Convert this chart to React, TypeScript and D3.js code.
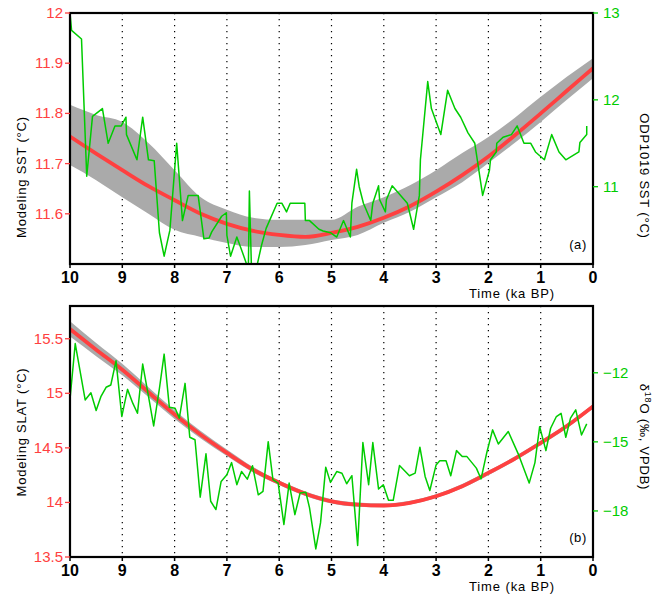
import React from "react";
import * as d3 from "d3";

const xTicks = [10, 9, 8, 7, 6, 5, 4, 3, 2, 1, 0];
const gridTimes = [9, 8, 7, 6, 5, 4, 3, 2, 1];
const modelTime = [10, 9.5, 9, 8.5, 8, 7.5, 7, 6.5, 6, 5.5, 5, 4.5, 4, 3.5, 3, 2.5, 2, 1.5, 1, 0.5, 0];

const sstModel = [11.754, 11.72, 11.687, 11.655, 11.627, 11.6, 11.58, 11.566, 11.558, 11.554, 11.562, 11.574, 11.592, 11.615, 11.644, 11.677, 11.714, 11.756, 11.8, 11.845, 11.89];
const sstUpper = [11.817, 11.797, 11.783, 11.741, 11.687, 11.633, 11.608, 11.592, 11.588, 11.588, 11.588, 11.614, 11.633, 11.657, 11.687, 11.721, 11.753, 11.791, 11.833, 11.873, 11.91];
const sstLower = [11.697, 11.667, 11.633, 11.6, 11.568, 11.554, 11.542, 11.534, 11.534, 11.538, 11.548, 11.558, 11.582, 11.604, 11.633, 11.663, 11.701, 11.741, 11.783, 11.827, 11.87];

const odpTime = [10, 9.97, 9.78, 9.68, 9.57, 9.38, 9.27, 9.14, 9.02, 8.93, 8.92, 8.72, 8.61, 8.5, 8.39, 8.29, 8.2, 8.09, 7.96, 7.85, 7.74, 7.55, 7.44, 7.34, 7.29, 7.1, 7.01, 7.0, 6.93, 6.81, 6.7, 6.59, 6.57, 6.53, 6.44, 6.34, 6.25, 6.04, 5.95, 5.86, 5.79, 5.51, 5.5, 5.42, 5.24, 5.16, 5.02, 4.9, 4.77, 4.64, 4.61, 4.52, 4.47, 4.39, 4.25, 4.21, 4.1, 4.08, 3.97, 3.95, 3.84, 3.55, 3.43, 3.32, 3.3, 3.16, 3.09, 2.91, 2.78, 2.64, 2.53, 2.39, 2.26, 2.11, 1.98, 1.96, 1.85, 1.84, 1.72, 1.56, 1.45, 1.32, 1.19, 1.1, 0.93, 0.79, 0.65, 0.52, 0.27, 0.25, 0.12, 0.12];
const odpSST = [13.0, 12.8, 12.7, 11.12, 11.81, 11.9, 11.5, 11.7, 11.7, 11.8, 11.6, 11.31, 11.8, 11.31, 11.3, 10.47, 10.2, 10.5, 11.5, 10.61, 10.9, 10.9, 10.4, 10.41, 10.48, 10.66, 10.7, 10.44, 10.2, 10.42, 10.24, 10.05, 10.95, 10.05, 10.05, 10.32, 10.52, 10.81, 10.81, 10.71, 10.81, 10.81, 10.61, 10.61, 10.51, 10.49, 10.47, 10.42, 10.61, 10.42, 10.81, 11.2, 11.0, 10.81, 10.61, 10.81, 11.01, 10.85, 10.71, 10.85, 11.01, 10.81, 10.51, 10.9, 11.31, 12.21, 11.9, 11.6, 12.11, 11.9, 11.8, 11.62, 11.5, 10.9, 11.19, 11.31, 11.4, 11.5, 11.57, 11.6, 11.7, 11.5, 11.5, 11.4, 11.31, 11.6, 11.4, 11.31, 11.4, 11.51, 11.6, 11.7];

const slatModel = [15.589, 15.4, 15.216, 15.01, 14.805, 14.62, 14.454, 14.3, 14.18, 14.08, 14.01, 13.98, 13.972, 13.997, 14.057, 14.149, 14.271, 14.4, 14.546, 14.7, 14.88];
const slatUpper = [15.66, 15.46, 15.27, 15.055, 14.845, 14.655, 14.485, 14.325, 14.2, 14.1, 14.03, 14.0, 13.99, 14.015, 14.075, 14.17, 14.29, 14.42, 14.565, 14.72, 14.9];
const slatLower = [15.52, 15.34, 15.165, 14.965, 14.765, 14.585, 14.425, 14.275, 14.16, 14.06, 13.99, 13.96, 13.955, 13.98, 14.04, 14.13, 14.25, 14.38, 14.525, 14.68, 14.86];

const d18oTime = [10, 9.9, 9.71, 9.6, 9.5, 9.41, 9.31, 9.22, 9.12, 9.01, 8.9, 8.8, 8.71, 8.61, 8.5, 8.4, 8.29, 8.2, 8.1, 7.99, 7.91, 7.8, 7.71, 7.61, 7.51, 7.4, 7.31, 7.21, 7.11, 7.0, 6.91, 6.81, 6.72, 6.61, 6.51, 6.4, 6.31, 6.21, 6.12, 6.02, 5.91, 5.81, 5.7, 5.6, 5.49, 5.42, 5.3, 5.21, 5.11, 5.02, 4.9, 4.8, 4.71, 4.61, 4.5, 4.4, 4.29, 4.21, 4.1, 4.01, 3.91, 3.82, 3.7, 3.51, 3.4, 3.31, 3.21, 3.12, 3.0, 2.93, 2.81, 2.72, 2.61, 2.5, 2.41, 2.23, 2.14, 2.03, 1.92, 1.81, 1.62, 1.43, 1.22, 1.11, 1.02, 0.9, 0.81, 0.7, 0.61, 0.52, 0.43, 0.33, 0.22, 0.12];
const d18o = [-13.15, -10.73, -13.18, -12.87, -13.64, -13.04, -12.63, -12.53, -11.48, -13.9, -12.72, -13.32, -13.76, -11.62, -13.01, -14.31, -12.68, -11.19, -13.5, -13.54, -13.97, -12.46, -14.8, -14.91, -17.4, -15.52, -17.58, -17.94, -16.72, -16.43, -15.9, -16.86, -16.29, -16.62, -16.04, -17.3, -17.15, -14.99, -16.64, -16.79, -18.59, -16.79, -18.16, -17.22, -17.19, -17.87, -19.65, -18.52, -16.1, -16.76, -16.29, -16.36, -16.82, -16.47, -19.5, -15.03, -16.86, -15.03, -17.05, -16.86, -17.54, -17.54, -16.03, -16.47, -16.36, -15.23, -16.5, -17.11, -16.0, -15.82, -15.82, -16.47, -15.38, -15.64, -15.64, -16.14, -16.61, -15.46, -14.48, -15.09, -14.55, -15.52, -16.79, -15.9, -14.34, -15.38, -14.41, -13.9, -13.76, -14.8, -13.97, -13.61, -14.7, -14.22];

const sstTicks = [11.6, 11.7, 11.8, 11.9, 12];
const odpTicks = [11, 12, 13];
const slatTicks = [13.5, 14, 14.5, 15, 15.5];
const d18oTicks = [-18, -15, -12];

const L = 70, R = 593;
const RED = "#ff4040";
const GREEN = "#00cc00";
const GRAY = "#aaaaaa";
const FONT = "'Liberation Sans', Arial, Helvetica, sans-serif";

type PanelProps = {
  top: number; bottom: number; id: string;
  leftDomain: [number, number]; rightDomain: [number, number];
  leftTicks: number[]; rightTicks: number[];
  leftFmt: (v: number) => string; rightFmt: (v: number) => string;
  model: number[]; upper: number[]; lower: number[];
  obsTime: number[]; obs: number[];
  leftTitle: string; rightTitle: React.ReactNode; letter: string;
};

function Panel(p: PanelProps) {
  const x = d3.scaleLinear().domain([10, 0]).range([L, R]);
  const yl = d3.scaleLinear().domain(p.leftDomain).range([p.bottom, p.top]);
  const yr = d3.scaleLinear().domain(p.rightDomain).range([p.bottom, p.top]);
  const idx = modelTime.map((_, i) => i);
  const area = d3.area<number>().x(i => x(modelTime[i])).y0(i => yl(p.lower[i])).y1(i => yl(p.upper[i])).curve(d3.curveMonotoneX);
  const line = d3.line<number>().x(i => x(modelTime[i])).y(i => yl(p.model[i])).curve(d3.curveMonotoneX);
  const obsLine = d3.line<number>().x(i => x(p.obsTime[i])).y(i => yr(p.obs[i]));
  const obsIdx = p.obsTime.map((_, i) => i);
  const mid = (p.top + p.bottom) / 2;
  return (
    <g>
      <defs>
        <clipPath id={p.id}>
          <rect x={L} y={p.top} width={R - L} height={p.bottom - p.top} />
        </clipPath>
      </defs>
      <g clipPath={`url(#${p.id})`}>
        {gridTimes.map(t => (
          <line key={t} x1={x(t)} x2={x(t)} y1={p.top} y2={p.bottom} stroke="#000" strokeWidth={1.2} strokeDasharray="1.3,4.7" />
        ))}
        <path d={area(idx) || ""} fill={GRAY} stroke="none" />
        <path d={line(idx) || ""} fill="none" stroke={RED} strokeWidth={3.8} />
        <path d={obsLine(obsIdx) || ""} fill="none" stroke={GREEN} strokeWidth={1.5} strokeLinejoin="round" />
      </g>
      <rect x={L} y={p.top} width={R - L} height={p.bottom - p.top} fill="none" stroke="#000" strokeWidth={2.2} />
      {xTicks.map(t => (
        <g key={t}>
          <line x1={x(t)} x2={x(t)} y1={p.bottom} y2={p.bottom + 4} stroke="#000" strokeWidth={1.5} />
          <text x={x(t)} y={p.bottom + 19} textAnchor="middle" fontSize={16} fontWeight="bold" fontFamily={FONT} fill="#000">{t}</text>
        </g>
      ))}
      {p.leftTicks.map(v => (
        <g key={v}>
          <line x1={L - 5} x2={L} y1={yl(v)} y2={yl(v)} stroke={RED} strokeWidth={1.3} />
          <text x={L - 7} y={yl(v) + 5} textAnchor="end" fontSize={15} fontFamily={FONT} fill={RED}>{p.leftFmt(v)}</text>
        </g>
      ))}
      {p.rightTicks.map(v => (
        <g key={v}>
          <line x1={R} x2={R + 5} y1={yr(v)} y2={yr(v)} stroke={GREEN} strokeWidth={1.3} />
          <text x={R + 10} y={yr(v) + 5} textAnchor="start" fontSize={15} fontFamily={FONT} fill={GREEN}>{p.rightFmt(v)}</text>
        </g>
      ))}
      <text transform={`translate(26,${p.id === "c1" ? 177 : 432}) rotate(-90)`} textAnchor="middle" fontSize={13} letterSpacing={0.8} fontFamily={FONT} fill="#000">{p.leftTitle}</text>
      <text transform={`translate(640,${p.id === "c1" ? 176 : 437}) rotate(90)`} textAnchor="middle" fontSize={13} letterSpacing={0.8} fontFamily={FONT} fill="#000">{p.rightTitle}</text>
      <text x={512} y={p.bottom + 34} textAnchor="middle" fontSize={13} letterSpacing={0.9} fontFamily={FONT} fill="#000">Time (ka BP)</text>
      <text x={578} y={p.bottom - 15} textAnchor="middle" fontSize={13} letterSpacing={0.6} fontFamily={FONT} fill="#000">{p.letter}</text>
      <text x={L} y={mid} fontSize={0}>{""}</text>
    </g>
  );
}

export default function App() {
  return (
    <svg width={652} height={598} style={{ position: "absolute", left: 0, top: 0, background: "#fff" }}>
      <Panel
        id="c1" top={13} bottom={264}
        leftDomain={[11.5, 12]} rightDomain={[10.11, 13]}
        leftTicks={sstTicks} rightTicks={odpTicks}
        leftFmt={v => (v === 12 ? "12" : v.toFixed(1))} rightFmt={v => String(v)}
        model={sstModel} upper={sstUpper} lower={sstLower}
        obsTime={odpTime} obs={odpSST}
        leftTitle="Modeling SST (°C)" rightTitle="ODP1019 SST (°C)" letter="(a)"
      />
      <Panel
        id="c2" top={306} bottom={557}
        leftDomain={[13.5, 15.8]} rightDomain={[-20, -9.1]}
        leftTicks={slatTicks} rightTicks={d18oTicks}
        leftFmt={v => String(v)} rightFmt={v => "\u2212" + String(Math.abs(v))}
        model={slatModel} upper={slatUpper} lower={slatLower}
        obsTime={d18oTime} obs={d18o}
        leftTitle="Modeling SLAT (°C)"
        rightTitle={<>δ<tspan fontSize={9} dy={-5}>18</tspan><tspan dy={5}>O (‰, VPDB)</tspan></>}
        letter="(b)"
      />
    </svg>
  );
}
